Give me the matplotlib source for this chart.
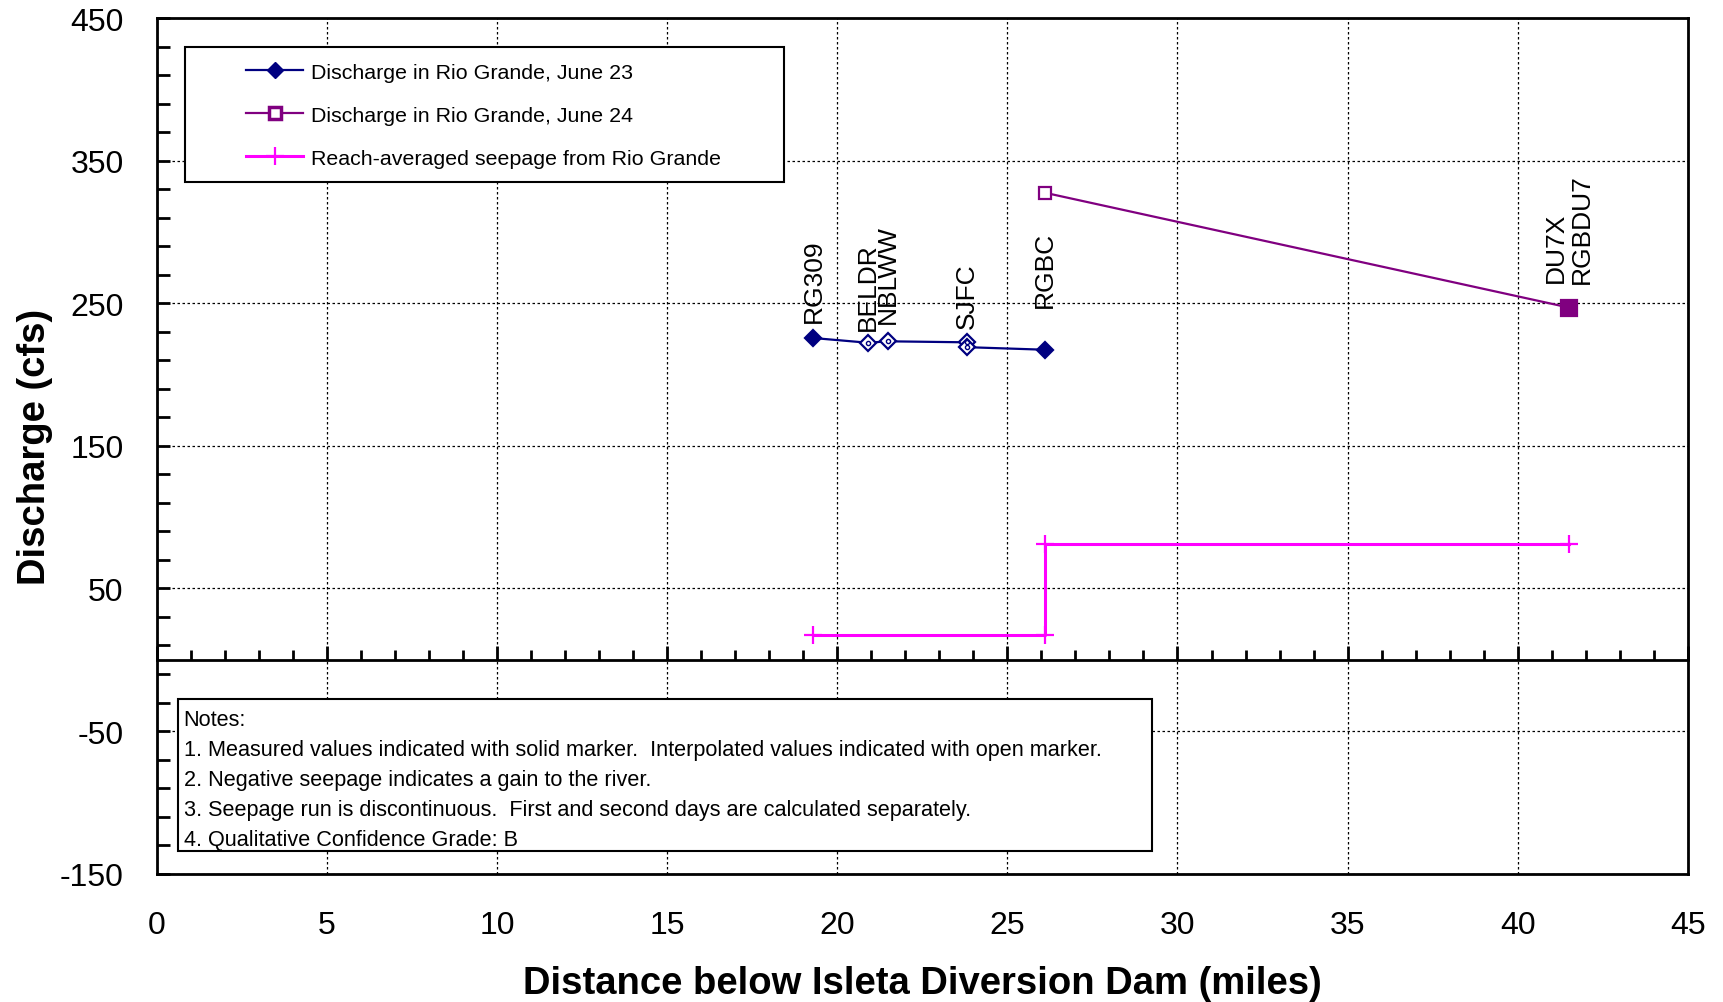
import matplotlib
matplotlib.use("Agg")
import matplotlib.pyplot as plt
from matplotlib.patches import Rectangle
from matplotlib.ticker import FixedLocator
import numpy as np

plt.rcParams["font.family"] = ["Liberation Sans", "DejaVu Sans"]
plt.rcParams["axes.unicode_minus"] = False

# June 23 discharge (solid = measured, open = interpolated)
jun23_x = [19.3, 20.9, 21.5, 23.8, 23.8, 26.1]
jun23_y = [225.6, 222.3, 223.3, 222.6, 219.2, 217.4]
jun23_measured = [True, False, False, False, False, True]

# June 24 discharge
jun24_x = [26.1, 41.5]
jun24_y = [327.5, 247.0]
jun24_measured = [False, True]

# reach-averaged seepage (step)
seep_x = [19.3, 26.1, 26.1, 41.5]
seep_y = [17.0, 17.0, 81.0, 81.0]

# station labels
stations = ["RG309", "BELDR", "NBLWW", "SJFC", "RGBC", "DU7X", "RGBDU7"]
station_x = [19.3, 20.9, 21.5, 23.8, 26.1, 41.5, 41.5]
station_y = [225.6, 222.3, 223.3, 222.6, 217.4, 247.0, 247.0]

notes = [
    "Notes:",
    "1. Measured values indicated with solid marker.  Interpolated values indicated with open marker.",
    "2. Negative seepage indicates a gain to the river.",
    "3. Seepage run is discontinuous.  First and second days are calculated separately.",
    "4. Qualitative Confidence Grade: B",
]

navy = "#000080"
purple = "#800080"
magenta = "#FF00FF"

fig = plt.figure(figsize=(17.24, 10.03), dpi=100)
ax = fig.add_axes([0.091, 0.128, 0.888, 0.853])

ax.plot(jun23_x, jun23_y, color=navy, lw=1.6, zorder=4)
for x, y, m in zip(jun23_x, jun23_y, jun23_measured):
    ax.plot(x, y, marker="D", ms=8, color=navy, mec=navy, mew=1.6,
            mfc=navy if m else "white", zorder=5)
    if not m:
        ax.plot(x, y, marker="o", ms=3, mfc="none", mec=navy, mew=1, zorder=6)

ax.plot(jun24_x, jun24_y, color=purple, lw=1.6, zorder=4)
for x, y, m in zip(jun24_x, jun24_y, jun24_measured):
    ax.plot(x, y, marker="s", ms=11 if m else 8, color=purple, mec=purple, mew=1.6,
            mfc=purple if m else "white", zorder=5)

ax.plot(seep_x, seep_y, color=magenta, lw=2.2, marker="+", ms=13, mew=1.6, zorder=4)

# station labels, rotated above the markers
offsets = {"RG309": (0, 16), "BELDR": (0, 13), "NBLWW": (0, 18), "SJFC": (0, 14),
           "RGBC": (0, 43), "DU7X": (-13, 26), "RGBDU7": (13, 25)}
for name, x, y in zip(stations, station_x, station_y):
    ax.annotate(name, (x, y), xytext=offsets[name], textcoords="offset pixels",
                rotation=90, ha="center", va="bottom", fontsize=19)

ax.set_xlim(0, 45)
ax.set_ylim(-150, 450)

ax.xaxis.set_major_locator(FixedLocator(np.arange(0, 46, 5)))
ax.xaxis.set_minor_locator(FixedLocator(np.arange(0, 46, 1)))
ax.yaxis.set_major_locator(FixedLocator(np.arange(-150, 451, 100)))
ax.yaxis.set_minor_locator(FixedLocator(np.arange(-150, 451, 20)))

ax.spines["bottom"].set_position(("data", 0))
for s in ax.spines.values():
    s.set_linewidth(2)
ax.tick_params(axis="x", which="both", direction="in", labelbottom=False, width=2, zorder=6)
ax.tick_params(axis="x", which="major", length=10)
ax.tick_params(axis="x", which="minor", length=7)
ax.tick_params(axis="y", which="both", direction="in", width=2, length=9, labelsize=23, pad=24)

ax.grid(True, which="major", color="black", lw=0.9, ls=(0, (2, 2)))
ax.set_axisbelow(True)

sec = ax.secondary_xaxis("bottom")
sec.set_xticks(np.arange(0, 46, 5))
sec.tick_params(length=0, labelsize=23, pad=26)
sec.spines["bottom"].set_linewidth(2)

ax.set_xlabel("Distance below Isleta Diversion Dam (miles)", fontsize=27.5, fontweight="bold")
ax.xaxis.set_label_coords(0.5, -0.107)
ax.set_ylabel("Discharge (cfs)", fontsize=27.5, fontweight="bold")
ax.yaxis.set_label_coords(-0.068, 0.5)

# legend box
ax.add_patch(Rectangle((0.0183, 0.8084), 0.3912, 0.1576, transform=ax.transAxes,
                       facecolor="white", edgecolor="black", lw=1.5, zorder=7))
h1, = ax.plot([], [], color=navy, marker="D", ms=8, lw=1.6)
h2, = ax.plot([], [], color=purple, marker="s", ms=8, mfc="white", mew=2.5, lw=1.6)
h3, = ax.plot([], [], color=magenta, marker="+", ms=13, mew=1.6, lw=2.2)
leg = ax.legend([h1, h2, h3],
                ["Discharge in Rio Grande, June 23", "Discharge in Rio Grande, June 24",
                 "Reach-averaged seepage from Rio Grande"],
                loc="upper left", bbox_to_anchor=(0.058, 0.948), borderaxespad=0,
                borderpad=0, frameon=False, fontsize=15.4, handlelength=2.7,
                handletextpad=0.35, labelspacing=1.13)
leg.set_zorder(8)

# notes box
ax.add_patch(Rectangle((0.0137, 0.0269), 0.6363, 0.1775, transform=ax.transAxes,
                       facecolor="white", edgecolor="black", lw=1.5, zorder=7))
ax.text(0.0175, 0.192, "\n".join(notes), transform=ax.transAxes, ha="left", va="top",
        fontsize=15.6, linespacing=1.55, zorder=8)

fig.savefig("out.png", dpi=100)
